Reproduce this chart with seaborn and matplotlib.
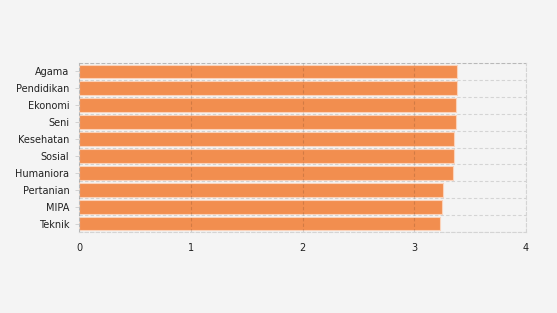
import numpy as np
import pandas as pd
import matplotlib
matplotlib.use("Agg")
import matplotlib.pyplot as plt
import seaborn as sns

categories = ["Agama", "Pendidikan", "Ekonomi", "Seni", "Kesehatan", "Sosial",
              "Humaniora", "Pertanian", "MIPA", "Teknik"]
values = [3.385, 3.382, 3.376, 3.375, 3.36, 3.358, 3.35, 3.255, 3.25, 3.233]
x_ticks = [0, 1, 2, 3, 4]

df = pd.DataFrame({"kategori": categories, "nilai": values})

sns.set_theme(style="white")
plt.rcParams['font.family'] = ['DejaVu Sans']

fig = plt.figure(figsize=(5.57, 3.13), dpi=100, facecolor="#f4f4f4")
ax = fig.add_axes([79/557, 1-232/313, (526-79)/557, (232-63)/313])
ax.set_facecolor("#f4f4f4")

sns.barplot(data=df, y="kategori", x="nilai", orient="h", color="#f28e4f",
            saturation=1, width=0.82, edgecolor="#fbd3bb", linewidth=0.8, ax=ax)

ax.set_xlim(0, 4)
ax.set_ylim(len(categories)-0.5, -0.5)
ax.set_xticks(x_ticks)
ax.set_xticklabels([str(t) for t in x_ticks], fontsize=7, color="#222222")
ax.set_yticks(range(len(categories)))
ax.set_yticklabels(categories, fontsize=7, color="#222222")
ax.set_yticks(np.arange(-0.5, len(categories), 1), minor=True)
ax.set_xlabel("")
ax.set_ylabel("")

ax.grid(False)
gkw = dict(linestyle=(0, (3, 2)), color="#000000", alpha=0.13, linewidth=0.8)
ax.xaxis.grid(True, which="major", **gkw)
ax.yaxis.grid(True, which="minor", **gkw)
ax.set_axisbelow(False)
for s in ax.spines.values():
    s.set_visible(True)
    s.set_linestyle((0, (3, 2)))
    s.set_color("#d4d4d4")
    s.set_linewidth(0.8)

ax.tick_params(axis="y", which="major", left=True, length=3, width=0.6, color="#cccccc", pad=4)
ax.tick_params(axis="y", which="minor", left=False)
ax.tick_params(axis="x", which="major", bottom=False, length=0, pad=8)

fig.savefig("out.png", dpi=100, facecolor=fig.get_facecolor())
